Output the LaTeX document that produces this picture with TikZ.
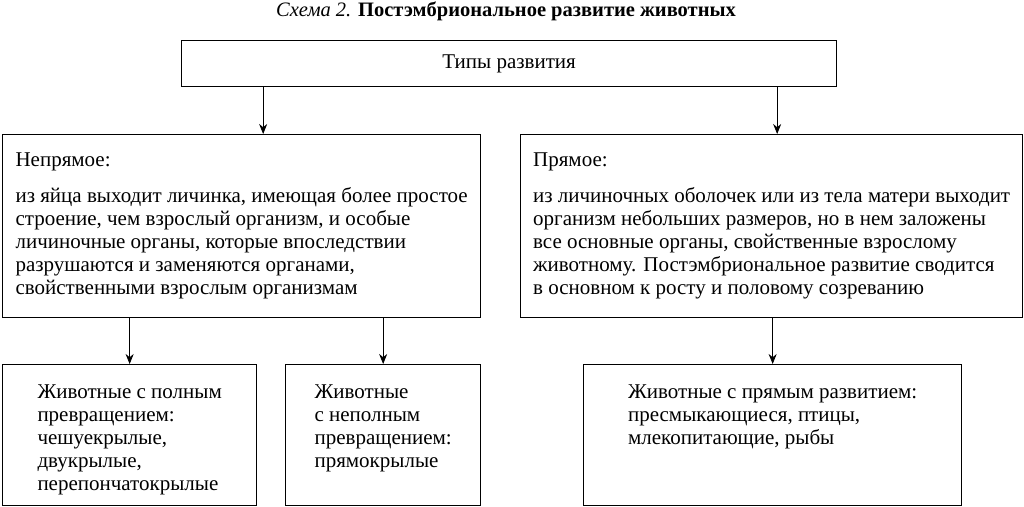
\documentclass[tikz,border=0pt]{standalone}
\usepackage{fontspec}
\setmainfont{Liberation Serif}
\usetikzlibrary{arrows.meta}
\newcommand{\boxlines}[1]{\begin{tabular}[t]{@{}l@{}}#1\end{tabular}}

\begin{document}
\begin{tikzpicture}[x=1pt,y=-1pt,
		box/.style={draw, line width=1.3pt, anchor=north west, align=left, inner sep=0pt,
			font=\fontsize{21}{23}\selectfont},
		toptext/.style={text depth=90pt, inner ysep=17pt, minimum height=141pt},
		arr/.style={-{Stealth[length=10pt,width=8pt]}, line width=0.8pt}]
		\useasboundingbox (0,0) rectangle (1024,506);
		\node[font=\fontsize{20.5}{22}\selectfont] (title) at (506,11)
			{\textit{Схема 2.} \textbf{Постэмбриональное развитие животных}};
		\node[box, minimum width=655pt, minimum height=46pt] (types) at (181,40) {Типы развития};
		\node[box, minimum width=478pt, minimum height=183pt] (indirect) at (2,134)
			{Непрямое:\\[13pt]
			из яйца выходит личинка, имеющая более простое\\
			строение, чем взрослый организм, и особые\\
			личиночные органы, которые впоследствии\\
			разрушаются и заменяются органами,\\
			свойственными взрослым организмам};
		\node[box, minimum width=502pt, minimum height=183pt] (direct) at (520,134)
			{Прямое:\\[13pt]
			из личиночных оболочек или из тела матери выходит\\
			организм небольших размеров, но в нем заложены\\
			все основные органы, свойственные взрослому\\
			животному. Постэмбриональное развитие сводится\\
			в основном к росту и половому созреванию};
		\node[box, toptext, minimum width=254pt] (full) at (2,364)
			{\boxlines{Животные с полным\\
			превращением:\\
			чешуекрылые,\\
			двукрылые,\\
			перепончатокрылые}};
		\node[box, toptext, minimum width=195pt] (partial) at (285,364)
			{\boxlines{Животные\\
			с неполным\\
			превращением:\\
			прямокрылые}};
		\node[box, toptext, minimum width=378pt] (directdev) at (583,364)
			{\boxlines{Животные с прямым развитием:\\
			пресмыкающиеся, птицы,\\
			млекопитающие, рыбы}};
		% arrows
		\draw[arr] ([xshift=-246pt]types.south) -- ([xshift=-246pt]types.south |- indirect.north);
		\draw[arr] ([xshift=268pt]types.south) -- ([xshift=268pt]types.south |- direct.north);
		\draw[arr] (full.north |- indirect.south) -- (full.north);
		\draw[arr] (partial.north |- indirect.south) -- (partial.north);
		\draw[arr] (directdev.north |- direct.south) -- (directdev.north);
\end{tikzpicture}
\end{document}
